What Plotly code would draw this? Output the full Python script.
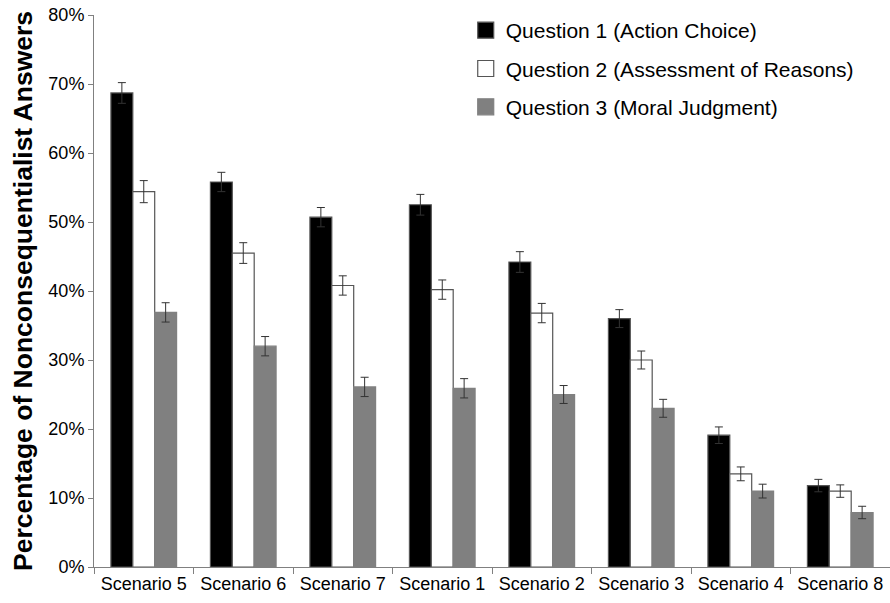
import plotly.graph_objects as go

categories = ["Scenario 5", "Scenario 6", "Scenario 7", "Scenario 1",
              "Scenario 2", "Scenario 3", "Scenario 4", "Scenario 8"]
q1 = [68.7, 55.8, 50.7, 52.5, 44.2, 36.0, 19.1, 11.8]
q2 = [54.4, 45.5, 40.8, 40.2, 36.8, 30.0, 13.5, 11.0]
q3 = [36.9, 32.0, 26.1, 25.9, 25.0, 23.0, 11.0, 7.9]
q1_err = [1.5, 1.4, 1.4, 1.5, 1.5, 1.3, 1.2, 0.9]
q2_err = [1.6, 1.5, 1.4, 1.4, 1.4, 1.3, 1.0, 0.9]
q3_err = [1.4, 1.4, 1.4, 1.4, 1.3, 1.3, 1.0, 0.9]
names = ["Question 1 (Action Choice)", "Question 2 (Assessment of Reasons)",
         "Question 3 (Moral Judgment)"]
fills = ["#000000", "#ffffff", "#808080"]
edges = ["#555555", "#555555", "#808080"]
y_ticks = [0, 10, 20, 30, 40, 50, 60, 70, 80]
y_labels = [f"{t}%" for t in y_ticks]

fig = go.Figure()
for vals, errs, name, fc, ec in zip([q1, q2, q3], [q1_err, q2_err, q3_err], names, fills, edges):
    fig.add_trace(go.Bar(
        x=categories, y=vals, name=name, showlegend=False,
        marker=dict(color=fc, line=dict(color=ec, width=1.2)),
        error_y=dict(type="data", array=errs, visible=True, color="#333333",
                     thickness=1, width=4),
    ))
for name, fc, ec in zip(names, fills, edges):
    fig.add_trace(go.Scatter(
        x=[None], y=[None], mode="markers", name=name, legendgroup=name,
        marker=dict(symbol="square", size=16, color=fc, line=dict(color=ec, width=1.2)),
    ))

fig.update_layout(
    width=890, height=603,
    margin=dict(l=94, r=0, t=15, b=36, autoexpand=False),
    paper_bgcolor="white", plot_bgcolor="white",
    barmode="group", bargap=0.34, bargroupgap=0,
    font=dict(family="Liberation Sans, Arial, sans-serif", color="#000000", size=18),
    legend=dict(x=0.467, y=1.009, xanchor="left", yanchor="top",
                font=dict(size=21), tracegroupgap=8, bgcolor="rgba(0,0,0,0)"),
    showlegend=True,
)
fig.update_xaxes(
    type="category", showline=True, linecolor="#808080", linewidth=1,
    ticks="outside", tickson="boundaries", ticklen=6, tickcolor="#808080",
    tickfont=dict(size=18), tickangle=0, showgrid=False,
)
fig.update_yaxes(
    range=[0, 80], tickvals=y_ticks, ticktext=y_labels,
    showline=True, linecolor="#808080", linewidth=1,
    ticks="outside", ticklen=5, tickcolor="#808080", showgrid=False,
    zeroline=False, tickfont=dict(size=18),
    title=dict(text="<b>Percentage of Nonconsequentialist Answers</b>",
               font=dict(size=26.5), standoff=8),
)
fig.write_html("out.html", config={"displayModeBar": False},
               post_script="document.body.style.margin='0px';")
